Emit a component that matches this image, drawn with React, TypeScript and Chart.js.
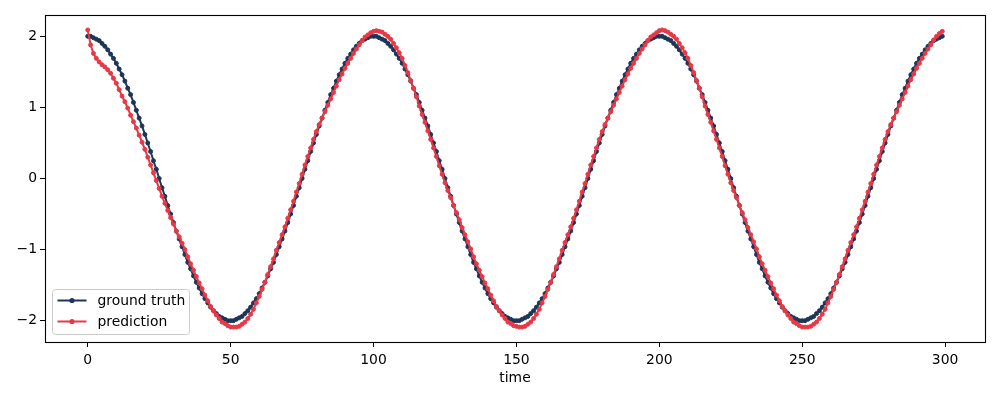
import { useEffect, useRef } from "react";
import { Chart, registerables } from "chart.js";

Chart.register(...registerables);

// time index 0..299
const timeSteps: number[] = Array.from({ length: 300 }, (_, i) => i);

const groundTruth: number[] = [
  2.00, 2.00, 1.98, 1.96, 1.94, 1.90, 1.86, 1.81, 1.75, 1.69,
  1.62, 1.54, 1.46, 1.37, 1.27, 1.18, 1.07, 0.96, 0.85, 0.74,
  0.62, 0.50, 0.38, 0.25, 0.13, 0.00, -0.13, -0.25, -0.38, -0.50,
  -0.62, -0.74, -0.85, -0.96, -1.07, -1.18, -1.27, -1.37, -1.46, -1.54,
  -1.62, -1.69, -1.75, -1.81, -1.86, -1.90, -1.94, -1.96, -1.98, -2.00,
  -2.00, -2.00, -1.98, -1.96, -1.94, -1.90, -1.86, -1.81, -1.75, -1.69,
  -1.62, -1.54, -1.46, -1.37, -1.27, -1.18, -1.07, -0.96, -0.85, -0.74,
  -0.62, -0.50, -0.38, -0.25, -0.13, 0.00, 0.13, 0.25, 0.38, 0.50,
  0.62, 0.74, 0.85, 0.96, 1.07, 1.18, 1.27, 1.37, 1.46, 1.54,
  1.62, 1.69, 1.75, 1.81, 1.86, 1.90, 1.94, 1.96, 1.98, 2.00,
  2.00, 2.00, 1.98, 1.96, 1.94, 1.90, 1.86, 1.81, 1.75, 1.69,
  1.62, 1.54, 1.46, 1.37, 1.27, 1.18, 1.07, 0.96, 0.85, 0.74,
  0.62, 0.50, 0.38, 0.25, 0.13, 0.00, -0.13, -0.25, -0.38, -0.50,
  -0.62, -0.74, -0.85, -0.96, -1.07, -1.18, -1.27, -1.37, -1.46, -1.54,
  -1.62, -1.69, -1.75, -1.81, -1.86, -1.90, -1.94, -1.96, -1.98, -2.00,
  -2.00, -2.00, -1.98, -1.96, -1.94, -1.90, -1.86, -1.81, -1.75, -1.69,
  -1.62, -1.54, -1.46, -1.37, -1.27, -1.18, -1.07, -0.96, -0.85, -0.74,
  -0.62, -0.50, -0.38, -0.25, -0.13, 0.00, 0.13, 0.25, 0.38, 0.50,
  0.62, 0.74, 0.85, 0.96, 1.07, 1.18, 1.27, 1.37, 1.46, 1.54,
  1.62, 1.69, 1.75, 1.81, 1.86, 1.90, 1.94, 1.96, 1.98, 2.00,
  2.00, 2.00, 1.98, 1.96, 1.94, 1.90, 1.86, 1.81, 1.75, 1.69,
  1.62, 1.54, 1.46, 1.37, 1.27, 1.18, 1.07, 0.96, 0.85, 0.74,
  0.62, 0.50, 0.38, 0.25, 0.13, 0.00, -0.13, -0.25, -0.38, -0.50,
  -0.62, -0.74, -0.85, -0.96, -1.07, -1.18, -1.27, -1.37, -1.46, -1.54,
  -1.62, -1.69, -1.75, -1.81, -1.86, -1.90, -1.94, -1.96, -1.98, -2.00,
  -2.00, -2.00, -1.98, -1.96, -1.94, -1.90, -1.86, -1.81, -1.75, -1.69,
  -1.62, -1.54, -1.46, -1.37, -1.27, -1.18, -1.07, -0.96, -0.85, -0.74,
  -0.62, -0.50, -0.38, -0.25, -0.13, 0.00, 0.13, 0.25, 0.38, 0.50,
  0.62, 0.74, 0.85, 0.96, 1.07, 1.18, 1.27, 1.37, 1.46, 1.54,
  1.62, 1.69, 1.75, 1.81, 1.86, 1.90, 1.94, 1.96, 1.98, 2.00,
];

const prediction: number[] = [
  2.09, 1.88, 1.76, 1.69, 1.64, 1.60, 1.57, 1.53, 1.48, 1.41,
  1.34, 1.25, 1.16, 1.08, 0.99, 0.89, 0.80, 0.71, 0.61, 0.51,
  0.41, 0.30, 0.19, 0.08, -0.03, -0.14, -0.25, -0.35, -0.45, -0.55,
  -0.64, -0.74, -0.82, -0.91, -1.00, -1.10, -1.20, -1.29, -1.38, -1.47,
  -1.55, -1.64, -1.72, -1.80, -1.86, -1.92, -1.97, -2.02, -2.04, -2.07,
  -2.09, -2.09, -2.09, -2.08, -2.05, -2.02, -1.97, -1.91, -1.84, -1.75,
  -1.66, -1.56, -1.46, -1.35, -1.24, -1.13, -1.01, -0.90, -0.79, -0.68,
  -0.56, -0.44, -0.32, -0.19, -0.07, 0.06, 0.19, 0.31, 0.43, 0.55,
  0.66, 0.76, 0.85, 0.94, 1.03, 1.12, 1.21, 1.30, 1.39, 1.47,
  1.55, 1.62, 1.69, 1.76, 1.82, 1.88, 1.94, 1.99, 2.02, 2.05,
  2.07, 2.08, 2.07, 2.06, 2.03, 2.00, 1.96, 1.90, 1.84, 1.77,
  1.69, 1.59, 1.49, 1.38, 1.27, 1.15, 1.02, 0.90, 0.79, 0.67,
  0.55, 0.43, 0.31, 0.18, 0.06, -0.06, -0.17, -0.27, -0.38, -0.48,
  -0.58, -0.69, -0.79, -0.89, -0.99, -1.10, -1.20, -1.29, -1.38, -1.47,
  -1.55, -1.64, -1.72, -1.80, -1.86, -1.92, -1.97, -2.02, -2.04, -2.07,
  -2.08, -2.09, -2.09, -2.08, -2.05, -2.02, -1.97, -1.91, -1.84, -1.75,
  -1.66, -1.56, -1.46, -1.35, -1.24, -1.13, -1.01, -0.90, -0.79, -0.68,
  -0.56, -0.44, -0.32, -0.19, -0.07, 0.06, 0.19, 0.31, 0.43, 0.55,
  0.66, 0.76, 0.85, 0.94, 1.03, 1.12, 1.21, 1.30, 1.39, 1.47,
  1.55, 1.62, 1.69, 1.76, 1.82, 1.88, 1.94, 1.99, 2.02, 2.05,
  2.08, 2.09, 2.08, 2.06, 2.03, 2.00, 1.96, 1.90, 1.84, 1.77,
  1.69, 1.59, 1.49, 1.38, 1.27, 1.15, 1.02, 0.90, 0.79, 0.67,
  0.55, 0.43, 0.31, 0.18, 0.06, -0.06, -0.17, -0.27, -0.38, -0.48,
  -0.58, -0.69, -0.79, -0.89, -0.99, -1.10, -1.20, -1.29, -1.38, -1.47,
  -1.55, -1.64, -1.72, -1.80, -1.86, -1.92, -1.97, -2.02, -2.04, -2.07,
  -2.09, -2.09, -2.09, -2.08, -2.05, -2.02, -1.97, -1.91, -1.84, -1.75,
  -1.66, -1.56, -1.46, -1.35, -1.24, -1.13, -1.01, -0.90, -0.79, -0.68,
  -0.56, -0.44, -0.32, -0.19, -0.07, 0.06, 0.19, 0.31, 0.43, 0.55,
  0.66, 0.76, 0.85, 0.94, 1.03, 1.12, 1.21, 1.30, 1.39, 1.47,
  1.55, 1.62, 1.69, 1.76, 1.82, 1.88, 1.95, 2.00, 2.04, 2.07,
];

const xTicks: number[] = [0, 50, 100, 150, 200, 250, 300];
const yTicks: number[] = [-2, -1, 0, 1, 2];
const seriesNames: string[] = ["ground truth", "prediction"];
const xTitle = "time";

const NAVY = "#1d3557";
const RED = "#e63946";
const FONT_FAMILY = "'DejaVu Sans', sans-serif";
const FONT_SIZE = 13.9;

const framePlugin = {
  id: "mplFrame",
  afterDraw(chart: any) {
    const { ctx, chartArea } = chart;
    const { left, right, top, bottom } = chartArea;
    ctx.save();
    // spines
    ctx.strokeStyle = "#000";
    ctx.lineWidth = 1.1;
    ctx.strokeRect(Math.round(left) + 0.5, Math.round(top) + 0.5, Math.round(right - left), Math.round(bottom - top));

    // legend (lower left, inside axes)
    const bx = left + 7.5;
    const bw = 137;
    const bh = 45;
    const by = bottom - 7.5 - bh;
    const r = 3;
    ctx.beginPath();
    ctx.moveTo(bx + r, by);
    ctx.lineTo(bx + bw - r, by);
    ctx.arcTo(bx + bw, by, bx + bw, by + r, r);
    ctx.lineTo(bx + bw, by + bh - r);
    ctx.arcTo(bx + bw, by + bh, bx + bw - r, by + bh, r);
    ctx.lineTo(bx + r, by + bh);
    ctx.arcTo(bx, by + bh, bx, by + bh - r, r);
    ctx.lineTo(bx, by + r);
    ctx.arcTo(bx, by, bx + r, by, r);
    ctx.closePath();
    ctx.fillStyle = "rgba(255,255,255,0.8)";
    ctx.fill();
    ctx.strokeStyle = "#cccccc";
    ctx.lineWidth = 1;
    ctx.stroke();

    const colors = [NAVY, RED];
    const rowY = [by + 11, by + 32];
    seriesNames.forEach((name, i) => {
      const y = rowY[i];
      ctx.strokeStyle = colors[i];
      ctx.lineWidth = 2;
      ctx.beginPath();
      ctx.moveTo(bx + 5, y);
      ctx.lineTo(bx + 34, y);
      ctx.stroke();
      ctx.fillStyle = colors[i];
      ctx.beginPath();
      ctx.arc(bx + 19.5, y, 2.6, 0, Math.PI * 2);
      ctx.fill();
      ctx.fillStyle = "#000";
      ctx.font = `${FONT_SIZE}px ${FONT_FAMILY}`;
      ctx.textBaseline = "middle";
      ctx.textAlign = "left";
      ctx.fillText(name, bx + 45, y + 0.5);
    });
    ctx.restore();
  },
};

function fmtTick(v: number): string {
  return v < 0 ? "\u2212" + String(Math.abs(v)) : String(v);
}

export default function App() {
  const canvasRef = useRef<HTMLCanvasElement | null>(null);

  useEffect(() => {
    if (!canvasRef.current) return;
    const chart = new Chart(canvasRef.current, {
      type: "line",
      data: {
        datasets: [
          {
            label: seriesNames[0],
            data: timeSteps.map((t, i) => ({ x: t, y: groundTruth[i] })),
            borderColor: NAVY,
            backgroundColor: NAVY,
            borderWidth: 2,
            pointRadius: 2,
            pointBorderWidth: 1,
            pointBorderColor: NAVY,
            pointBackgroundColor: NAVY,
            pointHoverRadius: 0,
            tension: 0,
            order: 1,
          },
          {
            label: seriesNames[1],
            data: timeSteps.map((t, i) => ({ x: t, y: prediction[i] })),
            borderColor: RED,
            backgroundColor: RED,
            borderWidth: 2,
            pointRadius: 2,
            pointBorderWidth: 1,
            pointBorderColor: RED,
            pointBackgroundColor: RED,
            pointHoverRadius: 0,
            tension: 0,
            order: 0,
          },
        ],
      },
      options: {
        animation: false,
        responsive: false,
        maintainAspectRatio: false,
        events: [],
        layout: { padding: { left: 0, right: 15, top: 15, bottom: 0 } },
        plugins: {
          legend: { display: false },
          tooltip: { enabled: false },
        },
        scales: {
          x: {
            type: "linear",
            min: -14.95,
            max: 313.95,
            afterBuildTicks: (s: any) => {
              s.ticks = xTicks.map((v) => ({ value: v }));
            },
            afterFit: (s: any) => {
              s.height = 58;
            },
            grid: {
              drawOnChartArea: false,
              drawTicks: true,
              tickLength: 5,
              color: "#000",
              lineWidth: 1,
            },
            border: { display: false },
            ticks: {
              color: "#000",
              font: { family: FONT_FAMILY, size: FONT_SIZE },
              padding: 5,
              maxRotation: 0,
              autoSkip: false,
              callback: (v: any) => fmtTick(Number(v)),
            },
            title: {
              display: true,
              text: xTitle,
              color: "#000",
              font: { family: FONT_FAMILY, size: FONT_SIZE },
              padding: { top: 0, bottom: 13.5 },
            },
          },
          y: {
            type: "linear",
            min: -2.3,
            max: 2.3,
            afterBuildTicks: (s: any) => {
              s.ticks = yTicks.map((v) => ({ value: v }));
            },
            afterFit: (s: any) => {
              s.width = 45;
            },
            grid: {
              drawOnChartArea: false,
              drawTicks: true,
              tickLength: 5,
              color: "#000",
              lineWidth: 1,
            },
            border: { display: false },
            ticks: {
              color: "#000",
              font: { family: FONT_FAMILY, size: FONT_SIZE },
              padding: 3,
              autoSkip: false,
              callback: (v: any) => fmtTick(Number(v)),
            },
          },
        },
      },
      plugins: [framePlugin],
    });
    return () => chart.destroy();
  }, []);

  return (
    <div style={{ position: "absolute", left: 0, top: 0, width: 1000, height: 400, background: "#fff" }}>
      <canvas ref={canvasRef} width={1000} height={400} style={{ width: 1000, height: 400, display: "block" }} />
    </div>
  );
}
